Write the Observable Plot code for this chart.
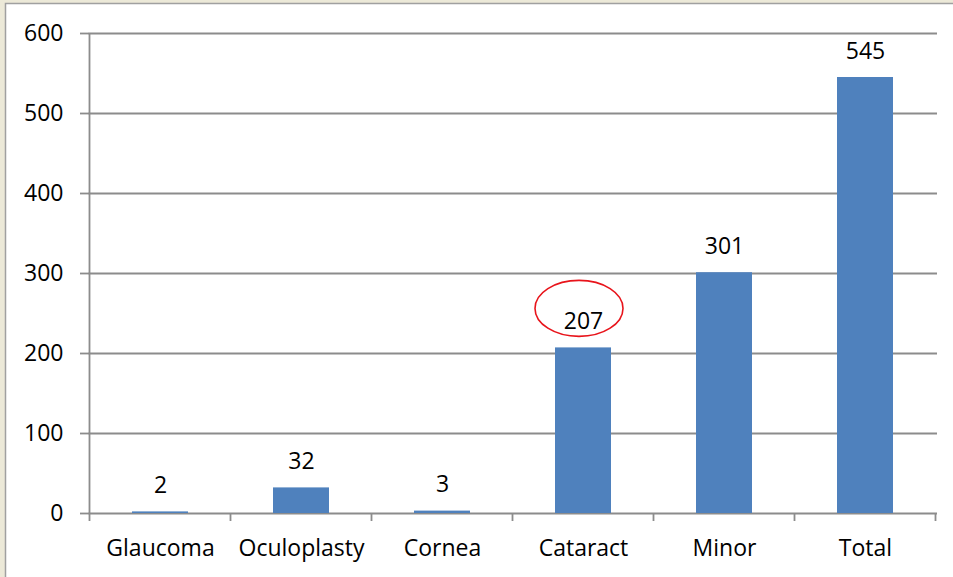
<!DOCTYPE html>
<html><head><meta charset="utf-8">
<script src="https://cdn.jsdelivr.net/npm/d3@7"></script>
<script src="https://cdn.jsdelivr.net/npm/@observablehq/plot@0.6"></script>
<style>
html,body{margin:0;padding:0;background:#ECE9D8;}
#chart svg{display:block;}
</style></head><body><div id="chart"></div>
<script>
const categories = ["Glaucoma","Oculoplasty","Cornea","Cataract","Minor","Total"];
const values = [2,32,3,207,301,545];
const yTicks = [0,100,200,300,400,500,600];
const highlighted = "Cataract";

const data = categories.map((c,i)=>({category:c, value:values[i]}));
const W=953,H=577, mL=88, mR=16, mT=33, mB=64;
const gray="#8c8c8c";
const font='"Open Sans", sans-serif';
const fs = 23;

const plot = Plot.plot({
  width:W, height:H, marginLeft:mL, marginRight:mR, marginTop:mT, marginBottom:mB,
  style:{fontFamily:font, fontSize:fs+"px", background:"transparent", color:"#000"},
  x:{domain:categories, paddingInner:0.6, paddingOuter:0.3, label:null},
  y:{domain:[0,600], ticks: yTicks, label:null},
  marks:[
    Plot.gridY(yTicks,{stroke:gray, strokeOpacity:1, strokeWidth:1.8}),
    Plot.axisY(yTicks,{tickSize:8, tickPadding:17, stroke:gray, strokeOpacity:1, strokeWidth:1.8, fill:"#000", fontSize:fs, label:null}),
    Plot.axisX({tickSize:0, tickPadding:26, fill:"#000", fontSize:fs, label:null}),
    Plot.barY(data,{x:"category", y:"value", fill:"#4F81BD"}),
    Plot.text(data,{x:"category", y:"value", text:d=>String(d.value), lineAnchor:"bottom", dy:-19, fill:"#000", fontSize:fs})
  ]
});

const svg = d3.select(plot);
const x = plot.scale("x");
const y = plot.scale("y");
const step = x.step, bw = x.bandwidth;
svg.insert("rect",":first-child")
  .attr("x",5.5).attr("y",3.5).attr("width",W).attr("height",H)
  .attr("fill","#fff").attr("stroke","#A0A0A0").attr("stroke-width",1.5);
const g = svg.append("g").attr("stroke",gray).attr("stroke-width",1.8);
const bounds = categories.map(c => x.apply(c) + bw/2 - step/2);
bounds.push(bounds[bounds.length-1] + step);
const y0 = y.apply(0), yTop = y.apply(600);
bounds.forEach(b => {
  g.append("line").attr("x1",b).attr("x2",b).attr("y1",y0).attr("y2",y0+8);
});
g.append("line").attr("x1",bounds[0]).attr("x2",bounds[0]).attr("y1",yTop).attr("y2",y0);
const hv = values[categories.indexOf(highlighted)];
svg.append("ellipse")
  .attr("cx", x.apply(highlighted)+bw/2-4)
  .attr("cy", y.apply(hv)-39)
  .attr("rx",44).attr("ry",28)
  .attr("fill","none").attr("stroke","#E8141B").attr("stroke-width",1.6);
document.getElementById("chart").appendChild(plot);
</script></body></html>
